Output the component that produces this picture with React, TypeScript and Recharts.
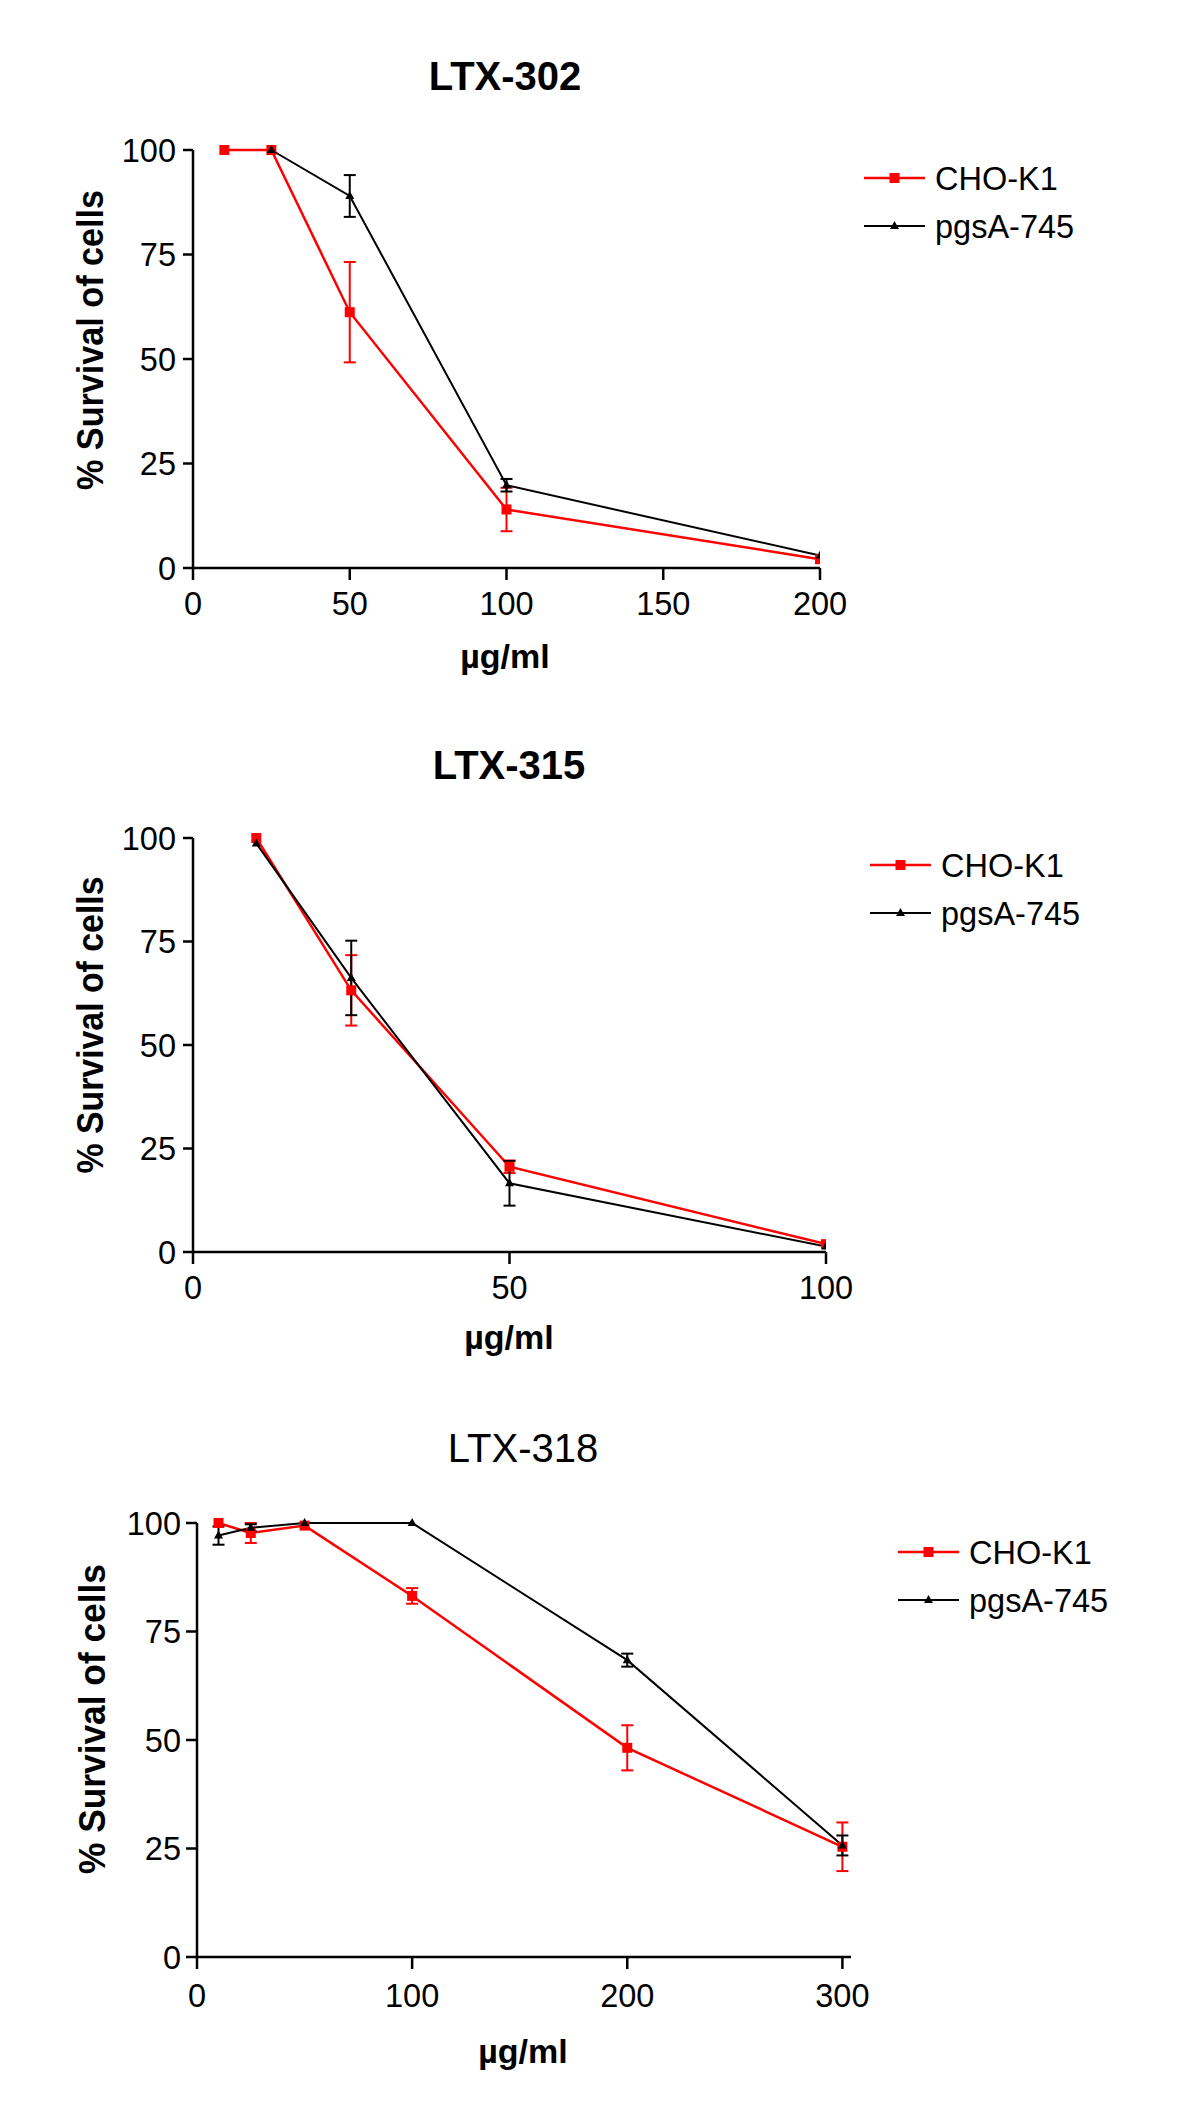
import React from 'react';
import { LineChart, Line, XAxis, YAxis, ErrorBar, Legend } from 'recharts';

const FONT = '"Liberation Sans", Arial, Helvetica, sans-serif';
const RED = '#ff0000';
const BLACK = '#000000';

const seriesNames = ['CHO-K1', 'pgsA-745'];
const yTicks = [0, 25, 50, 75, 100];

// LTX-302
const ltx302ChoDose = [10, 25, 50, 100, 200];
const ltx302Cho = [100, 100, 61.2, 14, 2.1];
const ltx302ChoErr = [0, 0, 12, 5.2, 0];
const ltx302PgsDose = [25, 50, 100, 200];
const ltx302Pgs = [100, 89, 19.8, 3];
const ltx302PgsErr = [0, 5, 1.5, 0];
const ltx302Ticks = [0, 50, 100, 150, 200];

// LTX-315
const ltx315Dose = [10, 25, 50, 100];
const ltx315Cho = [100, 63.2, 20.6, 1.9];
const ltx315ChoErr = [0, 8.5, 1.5, 0];
const ltx315Pgs = [98.7, 66.2, 16.6, 1.3];
const ltx315PgsErr = [0, 9, 5.4, 0];
const ltx315Ticks = [0, 50, 100];

// LTX-318
const ltx318Dose = [10, 25, 50, 100, 200, 300];
const ltx318Cho = [100, 97.7, 99.4, 83.2, 48.2, 25.4];
const ltx318ChoErr = [0, 2.3, 0, 1.8, 5.2, 5.6];
const ltx318Pgs = [97.1, 98.9, 100, 100, 68.4, 25.7];
const ltx318PgsErr = [2.1, 0.8, 0, 0, 1.5, 2.3];
const ltx318Ticks = [0, 100, 200, 300];

const rows = (dose: number[], val: number[], err: number[]) =>
  dose.map((d, i) => ({ dose: d, value: val[i], err: err[i] }));

const Square = (props: any) => {
  const { cx, cy, index } = props;
  if (cx == null || cy == null) return null;
  return <rect key={`sq-${index}`} x={cx - 5} y={cy - 5} width={10} height={10} fill={RED} />;
};

const Triangle = (props: any) => {
  const { cx, cy, index } = props;
  if (cx == null || cy == null) return null;
  return (
    <polygon
      key={`tr-${index}`}
      points={`${cx},${cy - 5} ${cx + 4.5},${cy + 3} ${cx - 4.5},${cy + 3}`}
      fill={BLACK}
    />
  );
};

const legendContent = () => (
  <svg width={320} height={100} style={{ overflow: 'visible' }}>
    <line x1={0} x2={61} y1={25} y2={25} stroke={RED} strokeWidth={2.5} />
    <rect x={25.5} y={20} width={10} height={10} fill={RED} />
    <text x={71} y={25} dy="0.355em" fontSize={32.5} fontFamily={FONT} fill={BLACK}>
      {seriesNames[0]}
    </text>
    <line x1={0} x2={61} y1={73} y2={73} stroke={BLACK} strokeWidth={2} />
    <polygon points="30.5,68 35,76 26,76" fill={BLACK} />
    <text x={71} y={73} dy="0.355em" fontSize={32.5} fontFamily={FONT} fill={BLACK}>
      {seriesNames[1]}
    </text>
  </svg>
);

type PanelProps = {
  top: number;
  height: number;
  title: string;
  boldTitle: boolean;
  titleX: number;
  titleY: number;
  cho: any[];
  pgs: any[];
  xDomain: number[];
  xTicks: number[];
  yAxisWidth: number;
  xAxisHeight: number;
  plotTop: number;
  plotRight: number;
  yTickSize: number;
  yTickMargin: number;
  xTickMargin: number;
  yLabelX: number;
  yLabelY: number;
  yLabelLen: number;
  xLabelX: number;
  xLabelY: number;
  legendX: number;
  legendY: number;
};

function Panel(p: PanelProps) {
  const axisStyle = { stroke: BLACK, strokeWidth: 2.5 };
  const tickStyle = { fontSize: 32.5, fill: BLACK, fontFamily: FONT };
  return (
    <div style={{ position: 'absolute', left: 0, top: p.top, width: 1200, height: p.height }}>
      <div
        style={{
          position: 'absolute',
          left: p.titleX - 200,
          width: 400,
          top: p.titleY - 19.5,
          textAlign: 'center',
          fontFamily: FONT,
          fontSize: 40,
          lineHeight: '40px',
          fontWeight: p.boldTitle ? 'bold' : 'normal',
          color: BLACK,
        }}
      >
        {p.title}
      </div>
      <LineChart
        width={1200}
        height={p.height}
        margin={{ top: p.plotTop, right: 1200 - p.plotRight, bottom: 0, left: 0 }}
      >
        <XAxis
          type="number"
          dataKey="dose"
          domain={p.xDomain}
          ticks={p.xTicks}
          interval={0}
          allowDataOverflow
          height={p.xAxisHeight}
          axisLine={axisStyle}
          tickLine={axisStyle}
          tickSize={12}
          tickMargin={p.xTickMargin}
          tick={tickStyle}
          label={{
            content: () => (
              <text
                x={p.xLabelX}
                y={p.xLabelY}
                textAnchor="middle"
                fontSize={34}
                fontWeight="bold"
                fontFamily={FONT}
                fill={BLACK}
              >
                µg/ml
              </text>
            ),
          }}
        />
        <YAxis
          type="number"
          domain={[0, 100]}
          ticks={yTicks}
          interval={0}
          width={p.yAxisWidth}
          axisLine={axisStyle}
          tickLine={axisStyle}
          tickSize={p.yTickSize}
          tickMargin={p.yTickMargin}
          tick={tickStyle}
          label={{
            content: () => (
              <text
                x={p.yLabelX}
                y={p.yLabelY}
                transform={`rotate(-90, ${p.yLabelX}, ${p.yLabelY})`}
                textAnchor="middle"
                fontSize={36}
                fontWeight="bold"
                fontFamily={FONT}
                fill={BLACK}
                textLength={p.yLabelLen}
                lengthAdjust="spacingAndGlyphs"
              >
                % Survival of cells
              </text>
            ),
          }}
        />
        <Legend
          layout="vertical"
          align="center"
          verticalAlign="middle"
          content={legendContent}
          wrapperStyle={{ position: 'absolute', left: p.legendX, top: p.legendY - 25, width: 320, height: 100 }}
        />
        <Line
          data={p.cho}
          dataKey="value"
          name={seriesNames[0]}
          stroke={RED}
          strokeWidth={2.5}
          dot={Square}
          activeDot={false}
          isAnimationActive={false}
        >
          <ErrorBar dataKey="err" direction="y" width={6} stroke={RED} strokeWidth={2} />
        </Line>
        <Line
          data={p.pgs}
          dataKey="value"
          name={seriesNames[1]}
          stroke={BLACK}
          strokeWidth={2}
          dot={Triangle}
          activeDot={false}
          isAnimationActive={false}
        >
          <ErrorBar dataKey="err" direction="y" width={6} stroke={BLACK} strokeWidth={2} />
        </Line>
      </LineChart>
    </div>
  );
}

export default function App() {
  return (
    <div style={{ position: 'absolute', left: 0, top: 0, width: 1200, height: 2122, background: '#fff' }}>
      <Panel
        top={0}
        height={700}
        title="LTX-302"
        boldTitle
        titleX={505}
        titleY={75}
        cho={rows(ltx302ChoDose, ltx302Cho, ltx302ChoErr)}
        pgs={rows(ltx302PgsDose, ltx302Pgs, ltx302PgsErr)}
        xDomain={[0, 200]}
        xTicks={ltx302Ticks}
        yAxisWidth={193}
        xAxisHeight={132}
        plotTop={150}
        plotRight={820}
        yTickSize={10}
        yTickMargin={7}
        xTickMargin={12}
        yLabelX={103}
        yLabelY={340}
        yLabelLen={300}
        xLabelX={505}
        xLabelY={668}
        legendX={864}
        legendY={178}
      />
      <Panel
        top={700}
        height={700}
        title="LTX-315"
        boldTitle
        titleX={509}
        titleY={64}
        cho={rows(ltx315Dose, ltx315Cho, ltx315ChoErr)}
        pgs={rows(ltx315Dose, ltx315Pgs, ltx315PgsErr)}
        xDomain={[0, 100]}
        xTicks={ltx315Ticks}
        yAxisWidth={193}
        xAxisHeight={148}
        plotTop={138}
        plotRight={826}
        yTickSize={10}
        yTickMargin={7}
        xTickMargin={12}
        yLabelX={103}
        yLabelY={325}
        yLabelLen={297}
        xLabelX={509}
        xLabelY={649}
        legendX={870}
        legendY={165}
      />
      <Panel
        top={1400}
        height={722}
        title="LTX-318"
        boldTitle={false}
        titleX={523}
        titleY={47}
        cho={rows(ltx318Dose, ltx318Cho, ltx318ChoErr)}
        pgs={rows(ltx318Dose, ltx318Pgs, ltx318PgsErr)}
        xDomain={[0, 304]}
        xTicks={ltx318Ticks}
        yAxisWidth={197}
        xAxisHeight={165}
        plotTop={123}
        plotRight={851}
        yTickSize={11}
        yTickMargin={5}
        xTickMargin={15}
        yLabelX={105}
        yLabelY={319}
        yLabelLen={310}
        xLabelX={523}
        xLabelY={663}
        legendX={898}
        legendY={152}
      />
    </div>
  );
}
